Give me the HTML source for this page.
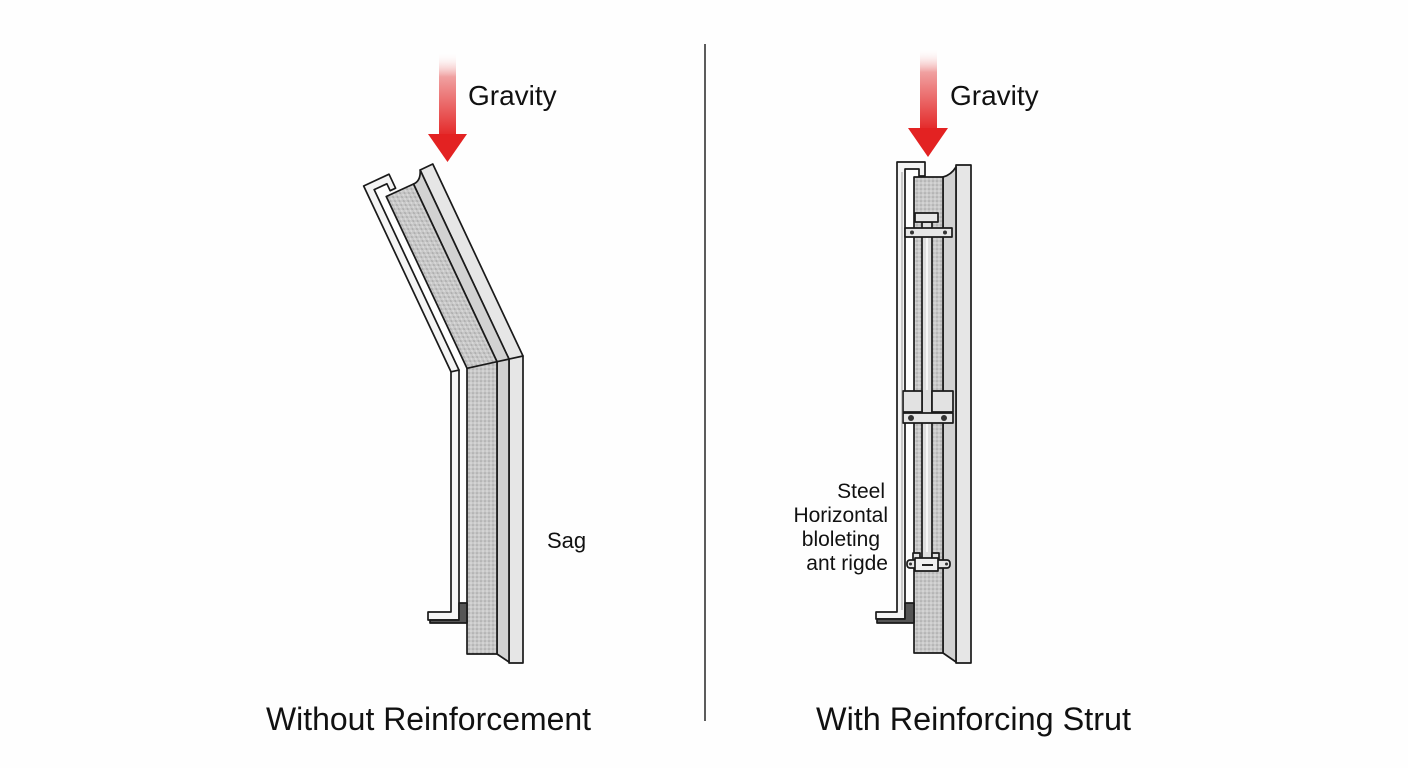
<!DOCTYPE html>
<html><head><meta charset="utf-8"><style>
html,body{margin:0;padding:0;background:#fefefe;}
svg{display:block;}
text{font-family:"Liberation Sans",sans-serif;fill:#111;}
</style></head><body>
<svg width="1408" height="768" viewBox="0 0 1408 768" xmlns="http://www.w3.org/2000/svg">
<defs>
 <pattern id="foam" width="4" height="4" patternUnits="userSpaceOnUse">
  <rect width="4" height="4" fill="#c8c8c8"/>
  <circle cx="1" cy="1" r="0.8" fill="#a2a2a2"/>
  <circle cx="3" cy="3" r="0.8" fill="#e2e2e2"/>
 </pattern>
 <linearGradient id="arr" x1="0" y1="0" x2="0" y2="1">
  <stop offset="0" stop-color="#ffffff" stop-opacity="0"/>
  <stop offset="0.3" stop-color="#f0a0a0"/>
  <stop offset="1" stop-color="#e42a2a"/>
 </linearGradient>
 <clipPath id="upclip" clipPathUnits="userSpaceOnUse">
  <polygon points="300,0 600,0 600,339.5 300,405.5"/>
 </clipPath>
</defs>
<rect width="1408" height="768" fill="#fefefe"/>

<!-- divider -->
<line x1="705" y1="44" x2="705" y2="721" stroke="#333" stroke-width="1.6"/>

<!-- LEFT arrow -->
<rect x="439" y="52" width="17" height="83" fill="url(#arr)"/>
<polygon points="428,134 467,134 447.5,162" fill="#e32222"/>
<text x="468" y="105" font-size="28">Gravity</text>

<!-- LEFT upper (tilted) part -->
<g clip-path="url(#upclip)">
 <g transform="matrix(1.1034,0,0.47,1,-221.39,0)" stroke="#1a1a1a" stroke-width="1.7" stroke-linejoin="round">
  <polygon points="509,170 523,164 523,380 509,380" fill="#e6e6e6" vector-effect="non-scaling-stroke"/>
  <path d="M497,184 Q505,181 509,170 L509,380 L497,380 Z" fill="#d2d2d2" vector-effect="non-scaling-stroke"/>
  <polygon points="467,196.5 497,184 497,380 467,380" fill="url(#foam)" vector-effect="non-scaling-stroke"/>
  <polygon points="451,380 451,186 479,174.2 479,188.2 473,190.7 473,183.8 459,189.6 459,380" fill="#f4f4f4" vector-effect="non-scaling-stroke"/>
 </g>
</g>

<!-- LEFT lower (vertical) part -->
<g stroke="#1a1a1a" stroke-width="1.7" stroke-linejoin="round">
 <polygon points="509,359.1 523,356 523,663 509,663" fill="#e6e6e6"/>
 <polygon points="497,361.7 509,359.1 509,662 497,654" fill="#d2d2d2"/>
 <polygon points="467,368.3 497,361.7 497,654 467,654" fill="url(#foam)"/>
 <polygon points="451,371.8 459,370.1 459,612 459,620 428,620 428,612 451,612" fill="#f4f4f4"/>
 <polygon points="459,603 467,603 467,623 430,623 430,620 459,620" fill="#555"/>
</g>
<text x="547" y="548" font-size="22">Sag</text>

<text x="266" y="730" font-size="32" textLength="325" lengthAdjust="spacingAndGlyphs">Without Reinforcement</text>

<!-- RIGHT arrow -->
<rect x="920" y="48" width="17" height="81" fill="url(#arr)"/>
<polygon points="908,128 948,128 928,157" fill="#e32222"/>
<text x="950" y="105" font-size="28">Gravity</text>

<!-- RIGHT panel -->
<g stroke="#1a1a1a" stroke-width="1.7" stroke-linejoin="round">
 <polygon points="956,165 971,165 971,663 956,663" fill="#e6e6e6"/>
 <path d="M943,177 Q951,175 956,167 L956,662 L943,653 Z" fill="#d2d2d2"/>
 <rect x="914" y="177" width="29" height="476" fill="url(#foam)"/>
 <polygon points="897,162 925,162 925,176 919,176 919,169 905,169 905,619 876,619 876,612 897,612" fill="#f4f4f4"/>
 <polygon points="905,603 914,603 914,623 877,623 877,619 905,619" fill="#555"/>
 <!-- rod -->
 <rect x="922" y="222" width="10" height="338" fill="#dedede"/>
 <!-- top clamp -->
 <rect x="915" y="213" width="23" height="9" fill="#e8e8e8"/>
 <rect x="905" y="228" width="47" height="9" fill="#e6e6e6"/>
 <!-- mid clamp -->
 <rect x="903" y="391" width="19" height="21" fill="#e2e2e2"/>
 <rect x="932" y="391" width="21" height="21" fill="#e2e2e2"/>
 <rect x="903" y="413" width="50" height="10" fill="#e6e6e6"/>
 <!-- lower clamp -->
 <rect x="913" y="553" width="7" height="7" fill="#e2e2e2"/>
 <rect x="932" y="553" width="7" height="7" fill="#e2e2e2"/>
 <rect x="907" y="560" width="43" height="8" rx="3" fill="#e6e6e6"/>
 <rect x="915" y="558" width="23" height="13" fill="#f0f0f0"/>
</g>
<line x1="927" y1="238" x2="927" y2="390" stroke="#f6f6f6" stroke-width="2"/>
<line x1="927" y1="424" x2="927" y2="552" stroke="#f6f6f6" stroke-width="2"/>
<line x1="902" y1="172" x2="902" y2="610" stroke="#888" stroke-width="0.8"/>
<g fill="#333">
 <circle cx="912" cy="232.5" r="2"/>
 <circle cx="945" cy="232.5" r="2"/>
 <circle cx="911" cy="418" r="3"/>
 <circle cx="944" cy="418" r="3"/>
 <circle cx="910.5" cy="564" r="1.5"/>
 <circle cx="946.5" cy="564" r="1.5"/>
</g>
<line x1="922" y1="565" x2="933" y2="565" stroke="#222" stroke-width="2"/>

<text x="885" y="498" font-size="21" text-anchor="end">Steel</text>
<text x="888" y="522" font-size="21" text-anchor="end">Horizontal</text>
<text x="880" y="546" font-size="21" text-anchor="end">bloleting</text>
<text x="888" y="570" font-size="21" text-anchor="end">ant rigde</text>

<text x="816" y="730" font-size="32" textLength="315" lengthAdjust="spacingAndGlyphs">With Reinforcing Strut</text>
</svg>
</body></html>
